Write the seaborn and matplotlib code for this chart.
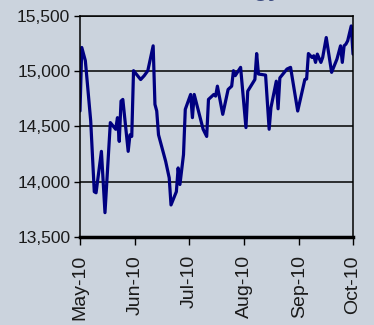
import matplotlib
matplotlib.use("Agg")
import matplotlib.pyplot as plt
import matplotlib.dates as mdates
import matplotlib.ticker as mticker
import pandas as pd
import seaborn as sns

# values (daily closes, May-Oct 2010)
dates = [
    "2010-05-01", "2010-05-02", "2010-05-04", "2010-05-07", "2010-05-09",
    "2010-05-10", "2010-05-13", "2010-05-15", "2010-05-18", "2010-05-21",
    "2010-05-22", "2010-05-23", "2010-05-24", "2010-05-25", "2010-05-28",
    "2010-05-29", "2010-05-30", "2010-05-31", "2010-06-04", "2010-06-06",
    "2010-06-08", "2010-06-11", "2010-06-12", "2010-06-13", "2010-06-14",
    "2010-06-18", "2010-06-20", "2010-06-21", "2010-06-24", "2010-06-25",
    "2010-06-26", "2010-06-28", "2010-06-29", "2010-07-02", "2010-07-03",
    "2010-07-04", "2010-07-09", "2010-07-11", "2010-07-12", "2010-07-15",
    "2010-07-16", "2010-07-17", "2010-07-20", "2010-07-23", "2010-07-25",
    "2010-07-26", "2010-07-27", "2010-07-30", "2010-08-02", "2010-08-03",
    "2010-08-07", "2010-08-08", "2010-08-09", "2010-08-13", "2010-08-15",
    "2010-08-16", "2010-08-19", "2010-08-20", "2010-08-21", "2010-08-25",
    "2010-08-27", "2010-08-31", "2010-09-04", "2010-09-05", "2010-09-06",
    "2010-09-08", "2010-09-09", "2010-09-10", "2010-09-11", "2010-09-13",
    "2010-09-14", "2010-09-16", "2010-09-19", "2010-09-22", "2010-09-24",
    "2010-09-25", "2010-09-26", "2010-09-27", "2010-09-28", "2010-09-30",
    "2010-10-01",
]
index_values = [
    14640, 15215, 15095, 14550, 13910,
    13900, 14275, 13720, 14535, 14475,
    14580, 14365, 14730, 14745, 14275,
    14425, 14410, 15005, 14925, 14960,
    15005, 15230, 14700, 14640, 14425,
    14185, 14035, 13790, 13910, 14125,
    13975, 14245, 14655, 14790, 14580,
    14790, 14475, 14410, 14745, 14790,
    14775, 14865, 14610, 14835, 14865,
    15005, 14960, 15035, 14490, 14820,
    14925, 15160, 14975, 14965, 14475,
    14670, 14910, 14660, 14940, 15020,
    15035, 14640, 14925, 14930, 15160,
    15125, 15140, 15080, 15155, 15080,
    15125, 15305, 14990, 15110, 15230,
    15080, 15230, 15245, 15275, 15410,
    15155,
]
y_ticks = [13500, 14000, 14500, 15000, 15500]
title = "Energy"

df = pd.DataFrame({"date": pd.to_datetime(dates), "value": index_values})

bg = "#CBD3DD"
sns.set_style("white")
plt.rcParams["font.family"] = ["Liberation Sans", "DejaVu Sans"]

fig = plt.figure(figsize=(3.74, 3.25), dpi=100, facecolor=bg)
ax = fig.add_axes([0.2139, 0.2708, 0.7300, 0.6800])
ax.set_facecolor(bg)

sns.lineplot(data=df, x="date", y="value", ax=ax, color="#000080", lw=2.3)

ax.set_ylim(13500, 15500)
ax.set_xlim(pd.Timestamp("2010-05-01"), pd.Timestamp("2010-10-01"))
ax.set_yticks(y_ticks)
ax.yaxis.set_major_formatter(mticker.FuncFormatter(lambda v, p: f"{v:,.0f}"))
ax.xaxis.set_major_locator(mdates.MonthLocator())
ax.xaxis.set_major_formatter(mdates.DateFormatter("%b-%y"))
ax.grid(True, axis="y", color="black", lw=1.1)
ax.set_axisbelow(True)

for side in ["left", "right", "top"]:
    ax.spines[side].set_color("black")
    ax.spines[side].set_linewidth(1.1)
ax.spines["bottom"].set_color("black")
ax.spines["bottom"].set_linewidth(2.5)

ax.tick_params(axis="y", direction="out", length=4, width=1, colors="black",
               labelsize=12.5, pad=3, left=True)
ax.tick_params(axis="x", direction="out", length=6, width=1, colors="black",
               labelsize=14, pad=7, rotation=90, bottom=True)
for lbl in ax.get_xticklabels() + ax.get_yticklabels():
    lbl.set_color("#1a1a1a")

ax.set_xlabel("")
ax.set_ylabel("")

# title sits above the visible area, only descenders show
fig.text(0.752, 1.0 + 4.0 / 325, title, ha="right", va="baseline",
         fontsize=17, fontweight="bold", color="#3B4A7E")

fig.savefig("out.png", dpi=100, facecolor=bg)
